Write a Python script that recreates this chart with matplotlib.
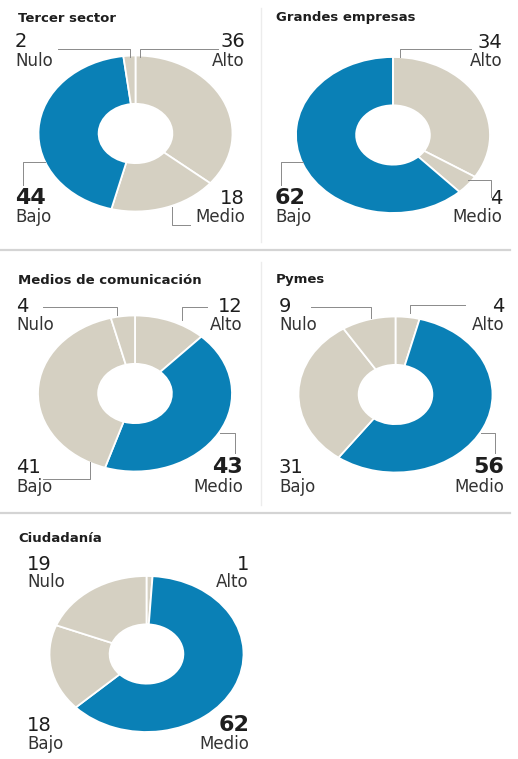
import matplotlib.pyplot as plt

# Datos (orden horario desde las 12: Alto, Medio, Bajo, Nulo)
titulos = ['Tercer sector', 'Grandes empresas', 'Medios de comunicación', 'Pymes', 'Ciudadanía']
categorias = ['Alto', 'Medio', 'Bajo', 'Nulo']
tercer_sector = [36, 18, 44, 2]
grandes_empresas = [34, 4, 62, 0]
medios = [12, 43, 41, 4]
pymes = [4, 56, 31, 9]
ciudadania = [1, 62, 18, 19]
valores = [tercer_sector, grandes_empresas, medios, pymes, ciudadania]

azul = '#0a80b6'
beige = '#d5d0c2'

W, H = 518, 759
fig = plt.figure(figsize=(W / 100, H / 100), dpi=100)

# Layout de cada panel (en píxeles): centro del donut, título, columnas y líneas base de etiquetas
paneles = [
    dict(cx=135.5, cy=133.5, tx=18, ty=18, lx=15, rx=245, top=(47, 66), bot=(204, 222)),
    dict(cx=393, cy=135, tx=276, ty=17, lx=275, rx=502, top=(48, 66), bot=(204, 222)),
    dict(cx=135, cy=393.5, tx=18, ty=280, lx=16, rx=243, top=(312, 330), bot=(473, 492)),
    dict(cx=395.5, cy=394.5, tx=276, ty=280, lx=279, rx=504, top=(312, 330), bot=(473, 492)),
    dict(cx=146.5, cy=654, tx=18, ty=538, lx=27, rx=249, top=(570, 587), bot=(731, 749)),
]
RX, RY = 97, 78

# Líneas guía (píxeles)
guias = [
    [[(58, 49), (130, 49), (130, 57)], [(218, 49), (140, 49), (140, 57)],
     [(45, 162), (23, 162), (23, 185)], [(172, 207), (172, 225), (190, 225)]],
    [[(471, 49), (400, 49), (400, 57)], [(468, 180), (491, 180), (491, 197)],
     [(303, 162), (281, 162), (281, 185)]],
    [[(43, 307), (117, 307), (117, 315)], [(207, 307), (182, 307), (182, 320)],
     [(43, 479), (90, 479), (90, 462)], [(220, 433), (235, 433), (235, 453)]],
    [[(311, 307), (371, 307), (371, 318)], [(465, 305), (410, 305), (410, 313)],
     [(481, 433), (495, 433), (495, 453)]],
    [],
]

for vals, p in zip(valores, paneles):
    ax = fig.add_axes([(p['cx'] - RX) / W, 1 - (p['cy'] + RY) / H, 2 * RX / W, 2 * RY / H])
    colores = [azul if v == max(vals) else beige for v in vals]
    ax.pie(vals, colors=colores, startangle=90, counterclock=False,
           wedgeprops=dict(width=0.62, edgecolor='white', linewidth=1.3))
    ax.set_aspect('auto')
    ax.set_xlim(-1, 1)
    ax.set_ylim(-1, 1)
    ax.axis('off')

# Capa superior en coordenadas de píxel
ov = fig.add_axes([0, 0, 1, 1], facecolor='none')
ov.set_xlim(0, W)
ov.set_ylim(H, 0)
ov.axis('off')

# separadores
ov.plot([0, 510], [250, 250], color='#d4d4d4', lw=1.6)
ov.plot([0, 510], [513, 513], color='#d4d4d4', lw=1.6)
ov.plot([261, 261], [8, 242], color='#ececec', lw=1)
ov.plot([261, 261], [262, 505], color='#ececec', lw=1)

for lineas in guias:
    for ln in lineas:
        xs, ys = zip(*ln)
        ov.plot(xs, ys, color='#8a8a8a', lw=0.7)

# Esquina de cada categoría: (lado, fila)
esquinas = {'Alto': ('r', 'top'), 'Medio': ('r', 'bot'), 'Bajo': ('l', 'bot'), 'Nulo': ('l', 'top')}

for titulo, vals, p in zip(titulos, valores, paneles):
    ov.text(p['tx'], p['ty'], titulo, fontsize=9.5, fontweight='bold', color='#1e1e1e',
            ha='left', va='center')
    for cat, v in zip(categorias, vals):
        if v == 0:
            continue
        lado, fila = esquinas[cat]
        x = p['rx'] if lado == 'r' else p['lx']
        ha = 'right' if lado == 'r' else 'left'
        yn, yl = p[fila]
        grande = v == max(vals)
        ov.text(x, yn, str(v), fontsize=16 if grande else 14,
                fontweight='bold' if grande else 'normal',
                color='#1e1e1e', ha=ha, va='baseline')
        ov.text(x, yl, cat, fontsize=12, color='#333333', ha=ha, va='baseline')

fig.savefig('out.png', dpi=100)
